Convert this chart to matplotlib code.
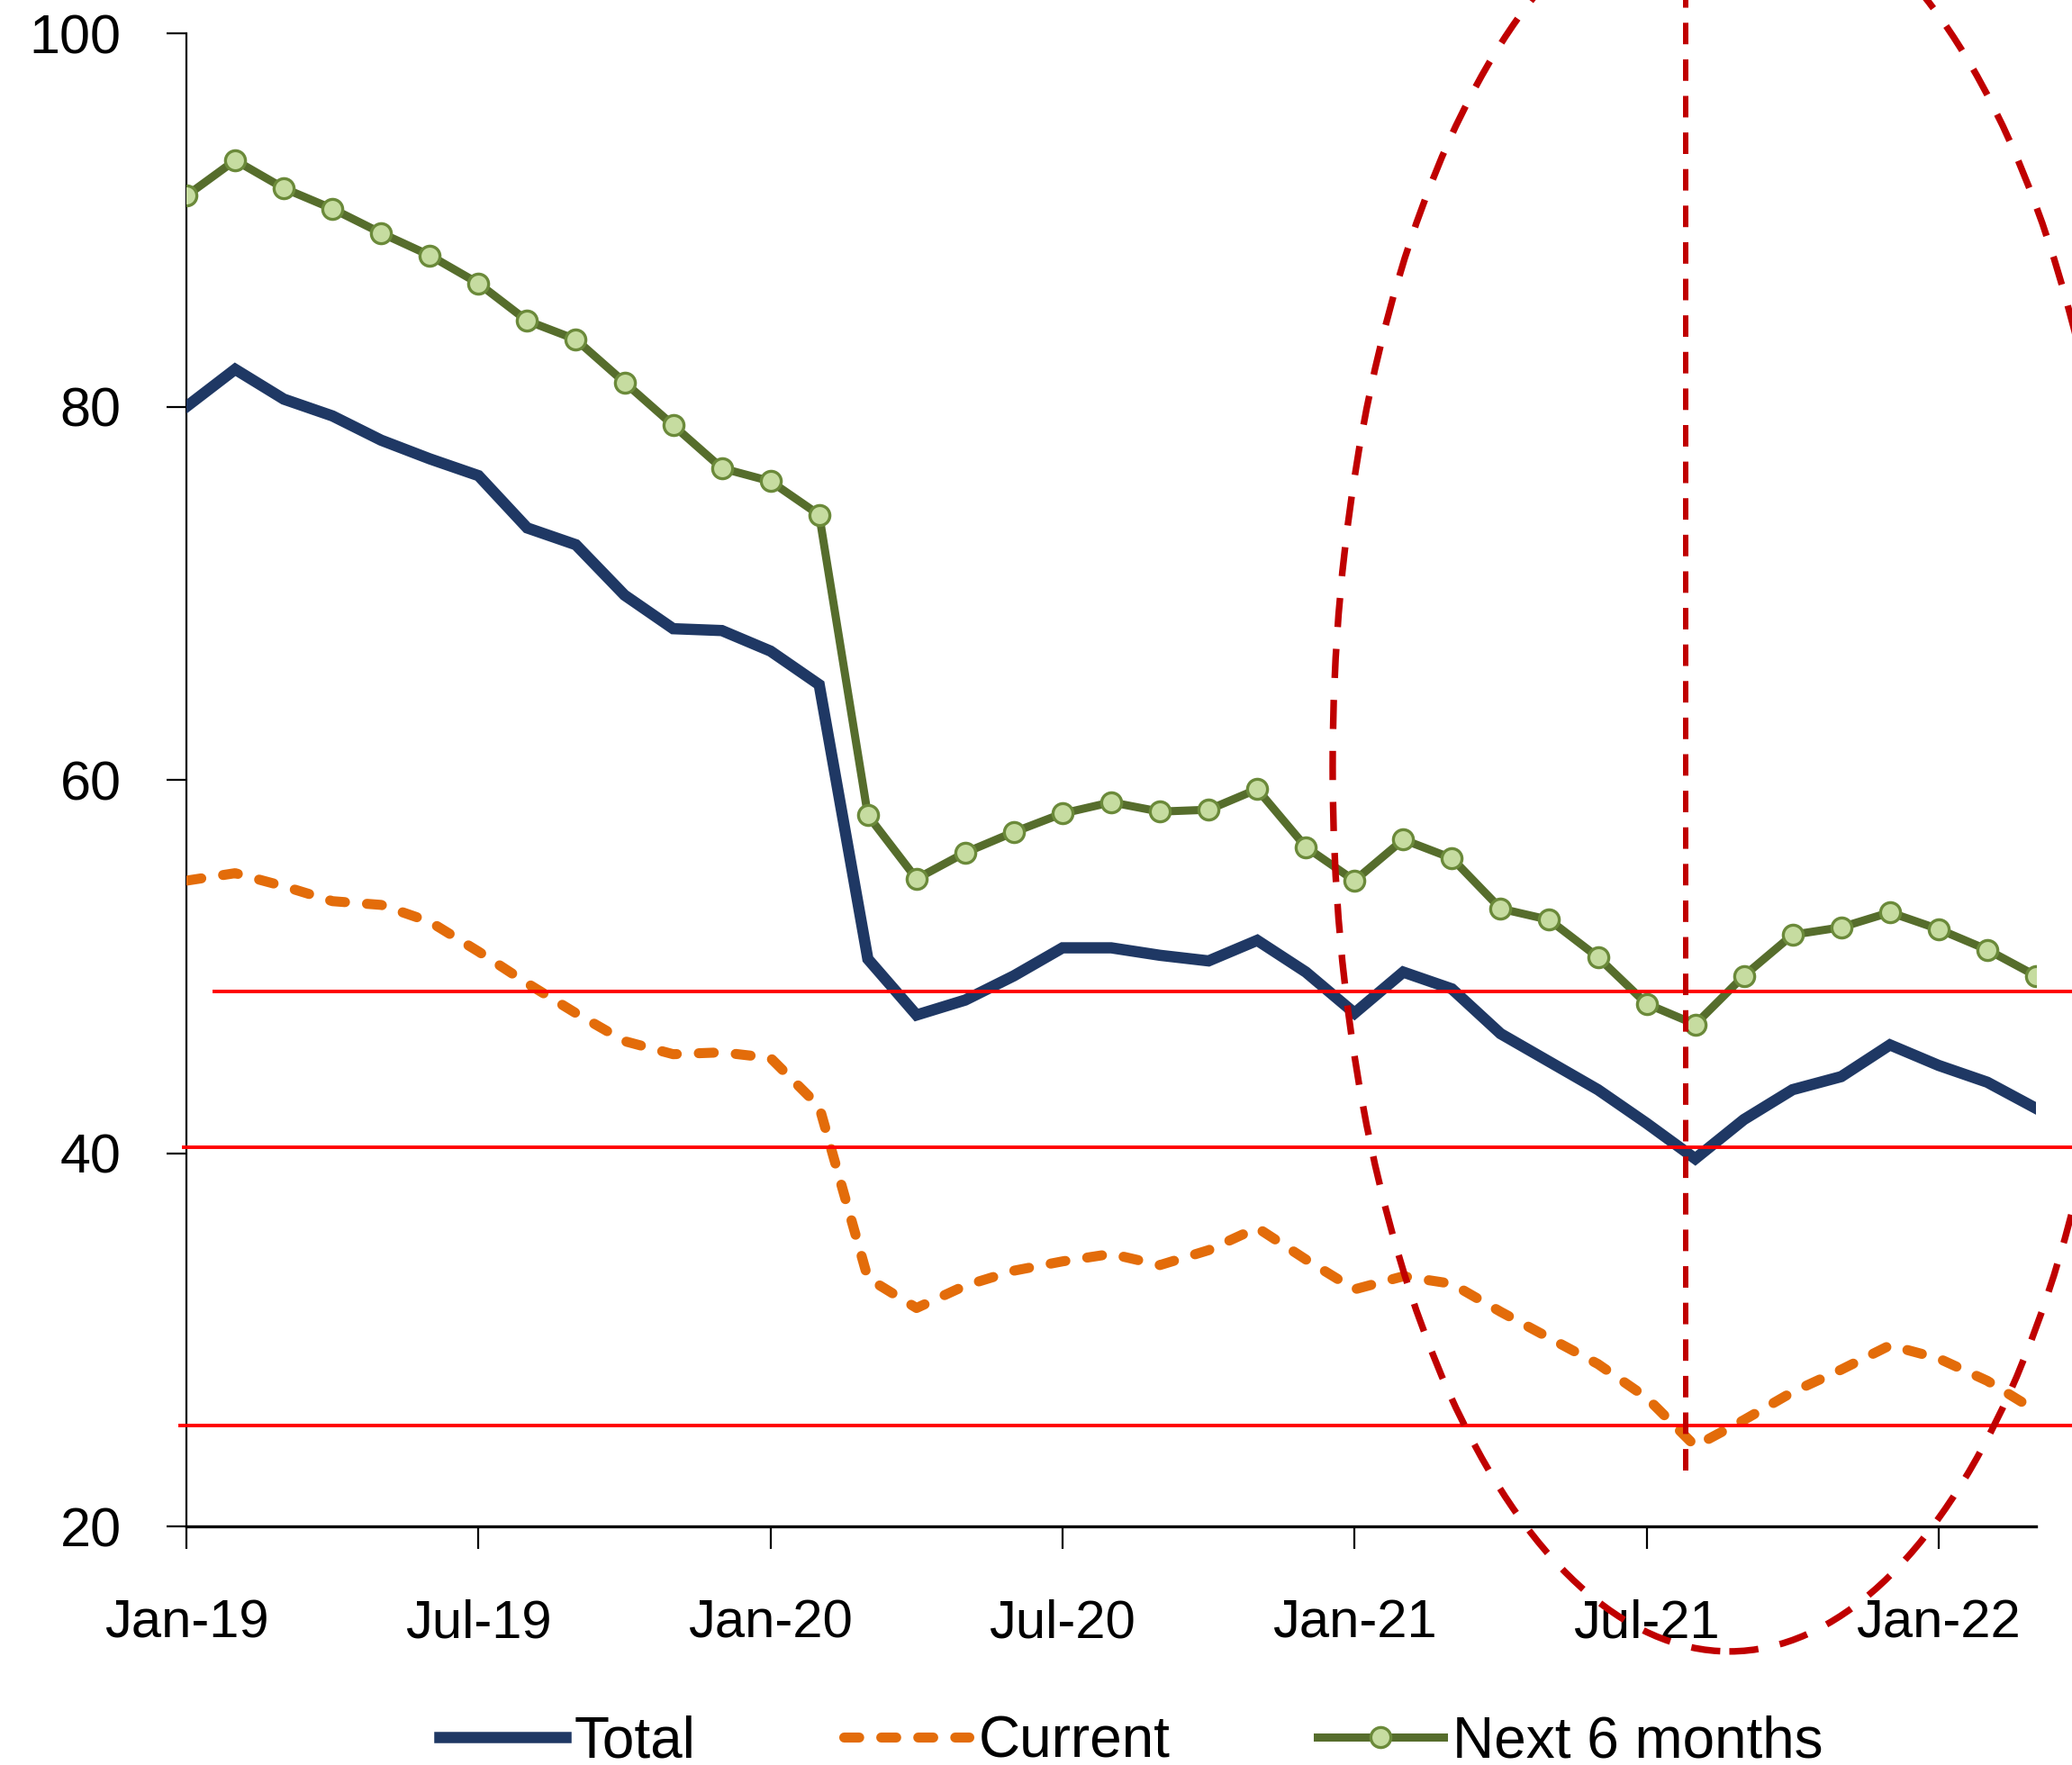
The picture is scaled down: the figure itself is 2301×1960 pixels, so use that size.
import numpy as np
import matplotlib
matplotlib.use("Agg")
import matplotlib.pyplot as plt
from matplotlib.patches import Ellipse

plt.rcParams['font.family'] = ['Liberation Sans', 'DejaVu Sans']

# monthly data, Jan-19 .. Mar-22
months = np.arange(39)
tick_pos = [0, 6, 12, 18, 24, 30, 36]
tick_labels = ['Jan-19', 'Jul-19', 'Jan-20', 'Jul-20', 'Jan-21', 'Jul-21', 'Jan-22']

total = [80.0, 82.0, 80.4, 79.5, 78.2, 77.2, 76.3, 73.5, 72.6, 69.9, 68.1, 68.0, 66.9,
         65.1, 50.4, 47.4, 48.2, 49.5, 51.0, 51.0, 50.6, 50.3, 51.4, 49.7, 47.5, 49.7,
         48.8, 46.4, 44.9, 43.4, 41.6, 39.7, 41.8, 43.4, 44.1, 45.8, 44.7, 43.8, 42.4]
current = [54.6, 55.0, 54.3, 53.5, 53.3, 52.4, 50.8, 49.1, 47.5, 46.0, 45.3, 45.4, 45.1,
           42.5, 33.3, 31.7, 32.9, 33.7, 34.2, 34.6, 34.0, 34.8, 36.0, 34.3, 32.7, 33.4,
           33.0, 31.5, 30.1, 28.7, 26.9, 24.3, 25.7, 27.2, 28.4, 29.7, 29.0, 27.8, 26.2]
next6 = [91.3, 93.2, 91.7, 90.6, 89.3, 88.1, 86.6, 84.6, 83.6, 81.3, 79.0, 76.7, 76.0,
         74.2, 58.1, 54.7, 56.1, 57.2, 58.2, 58.8, 58.3, 58.4, 59.5, 56.4, 54.6, 56.8,
         55.8, 53.1, 52.5, 50.5, 48.0, 46.9, 49.5, 51.7, 52.1, 52.9, 52.0, 50.9, 49.5]

# annotation levels drawn on top of the chart
ref_levels = [48.65, 40.3, 25.4]
ref_starts = [0.58, -0.06, -0.13]
marker_month = 30.8

fig = plt.figure(figsize=(23.01, 19.6), dpi=100)
ax = fig.add_axes([0.090, 0.1352, 0.8926, 0.8459])

ax.plot(months, total, color='#1f3864', lw=9, solid_joinstyle='miter', label='Total', zorder=3)
ax.plot(months, current, color='#e36c0a', lw=8, dashes=(1.5, 2.2),
        dash_capstyle='round', label='Current', zorder=3)
ax.plot(months, next6, color='#566d2c', lw=6.5, marker='o', ms=16,
        markerfacecolor='#c6dca0', markeredgecolor='#6b8a3a', markeredgewidth=2.4,
        label='Next 6 months', zorder=4)

for lvl, x0 in zip(ref_levels, ref_starts):
    ax.plot([x0, 38.9], [lvl, lvl], color='#ff0000', lw=2.8, clip_on=False, zorder=5)

ax.plot([marker_month, marker_month], [23.0, 102], color='#c00000', lw=4.3,
        dashes=(4, 2.8), clip_on=False, zorder=5)

ell = Ellipse((31.7, 60.7), 16.3, 94.8, fill=False, edgecolor='#c00000', lw=5.3,
              linestyle=(0, (4.4, 3.3)), clip_on=False, zorder=5)
ax.add_patch(ell)

ax.set_xlim(0, 38)
ax.set_ylim(20, 100)
ax.set_xticks(tick_pos)
ax.set_xticklabels(tick_labels)
ax.set_yticks([20, 40, 60, 80, 100])

for s in ['top', 'right']:
    ax.spines[s].set_visible(False)
ax.spines['left'].set_linewidth(1.6)
ax.spines['bottom'].set_linewidth(2.4)
ax.tick_params(axis='y', direction='out', length=16, width=1.6, pad=36, labelsize=44)
ax.tick_params(axis='x', direction='out', length=18, width=1.6, pad=40, labelsize=43)

fig.legend(loc='center', bbox_to_anchor=(0.546, 0.013), ncol=3, frameon=False,
           fontsize=46, handlelength=2.18, handletextpad=0.16, columnspacing=2.57)

fig.savefig('out.png', dpi=100)
